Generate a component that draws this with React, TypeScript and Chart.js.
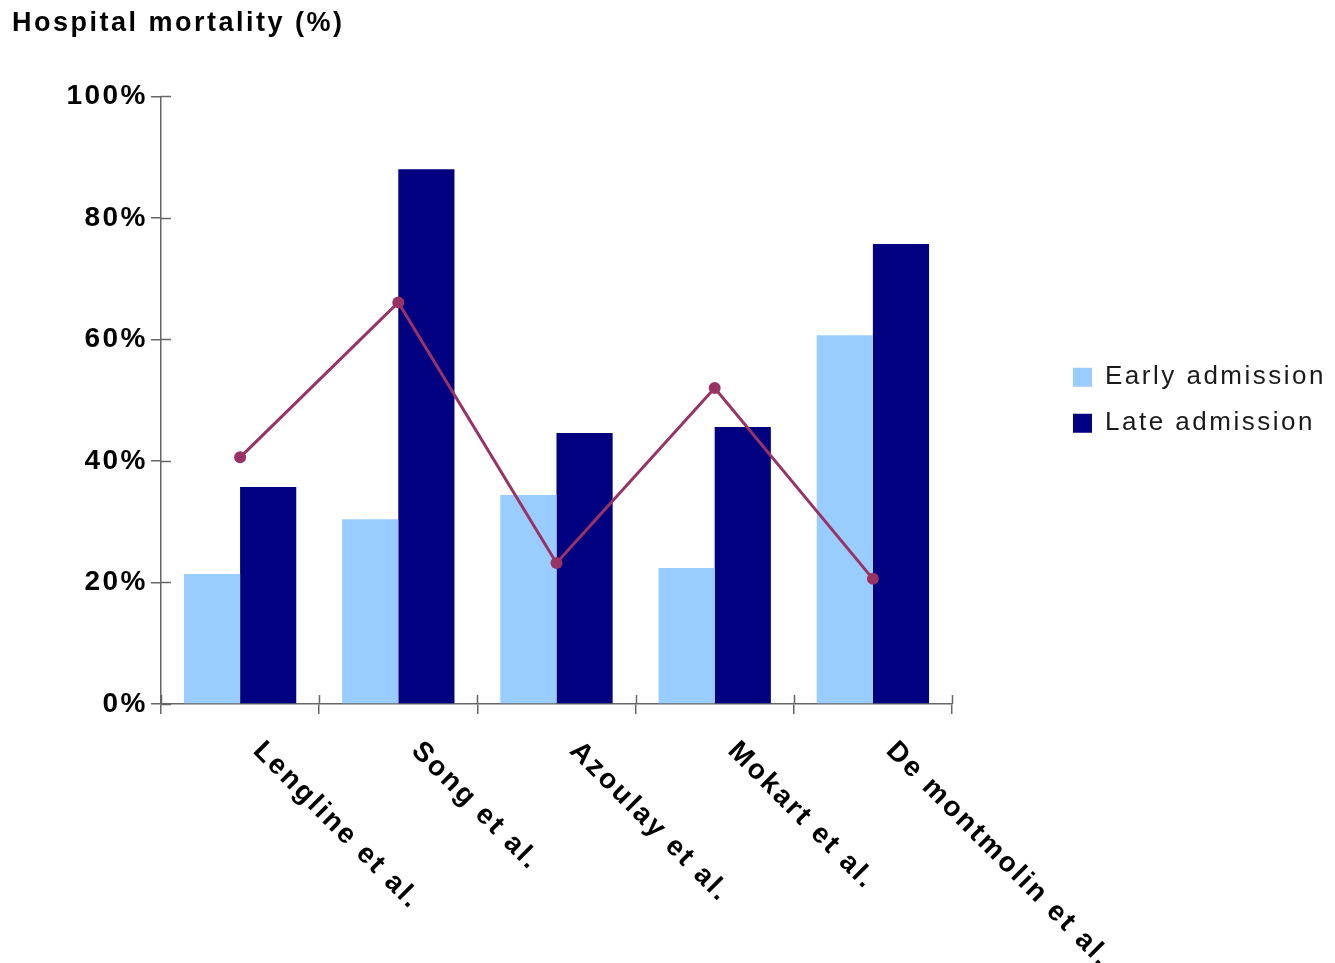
import { useEffect, useRef } from 'react';
import { Chart, registerables } from 'chart.js';

Chart.register(...registerables);

// Study labels along the category axis
const studies = ['Lengline et al.', 'Song et al.', 'Azoulay et al.', 'Mokart et al.', 'De montmolin et al.'];
// Hospital mortality (%) by admission timing
const earlyAdmission = [21.4, 30.4, 34.4, 22.4, 60.7];
const lateAdmission = [35.7, 88.0, 44.6, 45.6, 75.7];
// Overlay series drawn as a connected line with markers
const overlayValues = [40.6, 66.1, 23.2, 52.0, 20.6];
// Value axis ticks
const yTickMin = 0;
const yTickMax = 100;
const yTickStep = 20;

const FONT = '"Liberation Sans", Arial, Helvetica, sans-serif';
const AXIS_COLOR = '#666666';
const LETTER_SPACING = '2.5px';

// Slightly widened lettering for every text run on the canvas
const spacing = {
  id: 'spacing',
  beforeLayout(chart: any) {
    chart.ctx.letterSpacing = LETTER_SPACING;
  },
  beforeDraw(chart: any) {
    chart.ctx.letterSpacing = LETTER_SPACING;
  },
};

// Tick marks that cross the axis lines (inner halves; outer halves come from the grid options)
const crossTicks = {
  id: 'crossTicks',
  afterDraw(chart: any) {
    const { ctx } = chart;
    const x = chart.scales.x;
    const y = chart.scales.y;
    ctx.save();
    ctx.strokeStyle = AXIS_COLOR;
    ctx.lineWidth = 1.5;
    ctx.beginPath();
    y.ticks.forEach((_: any, i: number) => {
      const py = Math.round(y.getPixelForTick(i)) + 0.5;
      ctx.moveTo(x.left, py);
      ctx.lineTo(x.left + 10, py);
    });
    const n = studies.length;
    const step = x.width / n;
    for (let i = 0; i <= n; i++) {
      const px = Math.round(x.left + i * step) + 0.5;
      ctx.moveTo(px, y.bottom);
      ctx.lineTo(px, y.bottom - 9);
    }
    ctx.stroke();
    ctx.restore();
  },
};

// Category labels rotated 45° clockwise, starting just below each category centre
const slantedLabels = {
  id: 'slantedLabels',
  afterDraw(chart: any) {
    const { ctx } = chart;
    const x = chart.scales.x;
    ctx.save();
    ctx.letterSpacing = LETTER_SPACING;
    ctx.font = `bold 28px ${FONT}`;
    ctx.fillStyle = '#000000';
    ctx.textAlign = 'left';
    ctx.textBaseline = 'alphabetic';
    studies.forEach((label, i) => {
      const cx = x.getPixelForValue(i);
      ctx.save();
      ctx.translate(cx + 12, x.top + 48);
      ctx.rotate(Math.PI / 4);
      ctx.fillText(label, 0, 0);
      ctx.restore();
    });
    ctx.restore();
  },
};

function MortalityChart() {
  const canvasRef = useRef<HTMLCanvasElement | null>(null);

  useEffect(() => {
    const canvas = canvasRef.current;
    if (!canvas) return;

    Chart.defaults.font.family = FONT;

    const chart = new Chart(canvas, {
      type: 'bar',
      data: {
        labels: studies,
        datasets: [
          {
            type: 'line',
            label: 'overlay',
            data: overlayValues,
            borderColor: '#993366',
            backgroundColor: '#993366',
            borderWidth: 3,
            pointRadius: 6,
            pointBackgroundColor: '#993366',
            pointBorderWidth: 0,
            tension: 0,
            order: 0,
          } as any,
          {
            label: 'Early admission',
            data: earlyAdmission,
            backgroundColor: '#99ccff',
            borderWidth: 0,
            order: 1,
          },
          {
            label: 'Late admission',
            data: lateAdmission,
            backgroundColor: '#000080',
            borderWidth: 0,
            order: 1,
          },
        ],
      },
      options: {
        responsive: false,
        animation: false,
        layout: { padding: { left: 12, top: 0, right: 0, bottom: 0 } },
        datasets: {
          bar: { categoryPercentage: 0.71, barPercentage: 1.0 },
        },
        scales: {
          x: {
            type: 'category',
            offset: true,
            grid: {
              display: true,
              offset: true,
              drawOnChartArea: false,
              drawTicks: true,
              tickLength: 10,
              color: AXIS_COLOR,
              lineWidth: 1.5,
            },
            border: { display: true, color: AXIS_COLOR, width: 1.5 },
            ticks: { display: false },
            afterFit(scale: any) {
              scale.height = 259;
            },
          },
          y: {
            type: 'linear',
            min: yTickMin,
            max: yTickMax,
            ticks: {
              stepSize: yTickStep,
              callback: (v: any) => `${v}%`,
              color: '#000000',
              font: { size: 28, weight: 'bold', family: FONT },
              padding: 3,
            },
            grid: {
              display: true,
              drawOnChartArea: false,
              drawTicks: true,
              tickLength: 10,
              color: AXIS_COLOR,
              lineWidth: 1.5,
            },
            border: { display: true, color: AXIS_COLOR, width: 1.5 },
            afterFit(scale: any) {
              scale.width = 149;
            },
          },
          // empty band between the plot and the legend
          gap: {
            type: 'linear',
            position: 'right',
            display: false,
            afterFit(scale: any) {
              scale.width = 101;
            },
          },
        },
        plugins: {
          title: {
            display: true,
            text: 'Hospital mortality (%)',
            align: 'start',
            color: '#000000',
            font: { size: 27, weight: 'bold', family: FONT },
            padding: { top: 7, bottom: 57 },
          },
          legend: {
            display: true,
            position: 'right',
            align: 'center',
            fullSize: false,
            labels: {
              boxWidth: 19,
              boxHeight: 19,
              padding: 20,
              color: '#1a1a1a',
              font: { size: 26, family: FONT },
              filter: (item: any) => item.datasetIndex !== 0,
            },
          },
          tooltip: { enabled: false },
        },
      },
      plugins: [spacing, crossTicks, slantedLabels],
    });

    return () => chart.destroy();
  }, []);

  return (
    <div style={{ position: 'fixed', left: 0, top: 0, width: 1335, height: 963, overflow: 'hidden', background: '#ffffff' }}>
      <canvas ref={canvasRef} width={1336} height={963} style={{ display: 'block' }} />
    </div>
  );
}

export default function App() {
  return <MortalityChart />;
}
